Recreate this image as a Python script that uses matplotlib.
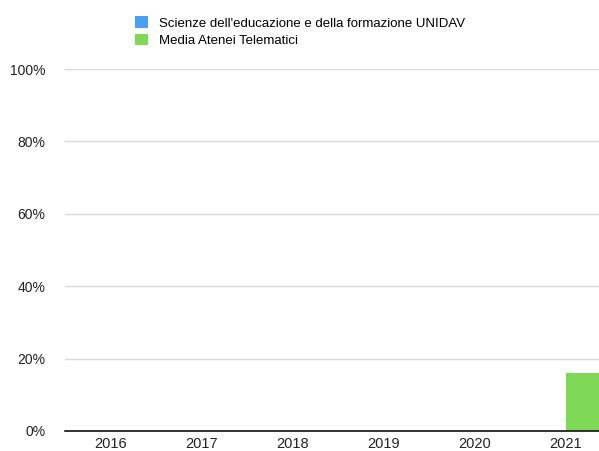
import matplotlib
matplotlib.use("Agg")
import matplotlib.pyplot as plt
import numpy as np
from matplotlib.ticker import PercentFormatter

years = ["2016", "2017", "2018", "2019", "2020", "2021"]
unidav = [0, 0, 0, 0, 0, 0]
media = [0, 0, 0, 0, 0, 0.16]
series_names = ["Scienze dell'educazione e della formazione UNIDAV", "Media Atenei Telematici"]
colors = ["#4a9ff5", "#7ed957"]

plt.rcParams['font.family'] = ['Liberation Sans', 'DejaVu Sans']

fig = plt.figure(figsize=(5.99, 4.51), dpi=100)
ax = fig.add_axes([65/599, 1-431/451, 1-65/599, (431-69)/451])

x = np.arange(len(years))
w = 0.4
b1 = ax.bar(x - w/2, unidav, w, color=colors[0], label=series_names[0], zorder=3)
b2 = ax.bar(x + w/2, media, w, color=colors[1], label=series_names[1], zorder=3)

ax.set_ylim(0, 1)
ax.set_xlim(-0.505, 5.365)
ax.set_yticks([0, 0.2, 0.4, 0.6, 0.8, 1.0])
ax.yaxis.set_major_formatter(PercentFormatter(1.0, decimals=0))
ax.set_xticks(x)
ax.set_xticklabels(years)
ax.tick_params(axis='both', length=0, labelsize=10, colors='#222222')
ax.tick_params(axis='x', labelsize=10.5, pad=4)
ax.tick_params(axis='y', pad=14)
ax.grid(axis='y', color='#d9d9d9', linewidth=1, zorder=0)
for s in ['top', 'right', 'left']:
    ax.spines[s].set_visible(False)
ax.spines['bottom'].set_color('#111111')
ax.spines['bottom'].set_linewidth(1.2)
ax.spines['bottom'].set_zorder(4)

fig.legend(handles=[b1, b2], labels=series_names, loc='upper left',
           bbox_to_anchor=(130/599, 1-11/451), frameon=False, fontsize=9.5,
           handlelength=1.0, handleheight=1.0, handletextpad=0.8,
           labelspacing=0.3, borderaxespad=0)

fig.savefig("out.png", dpi=100)
